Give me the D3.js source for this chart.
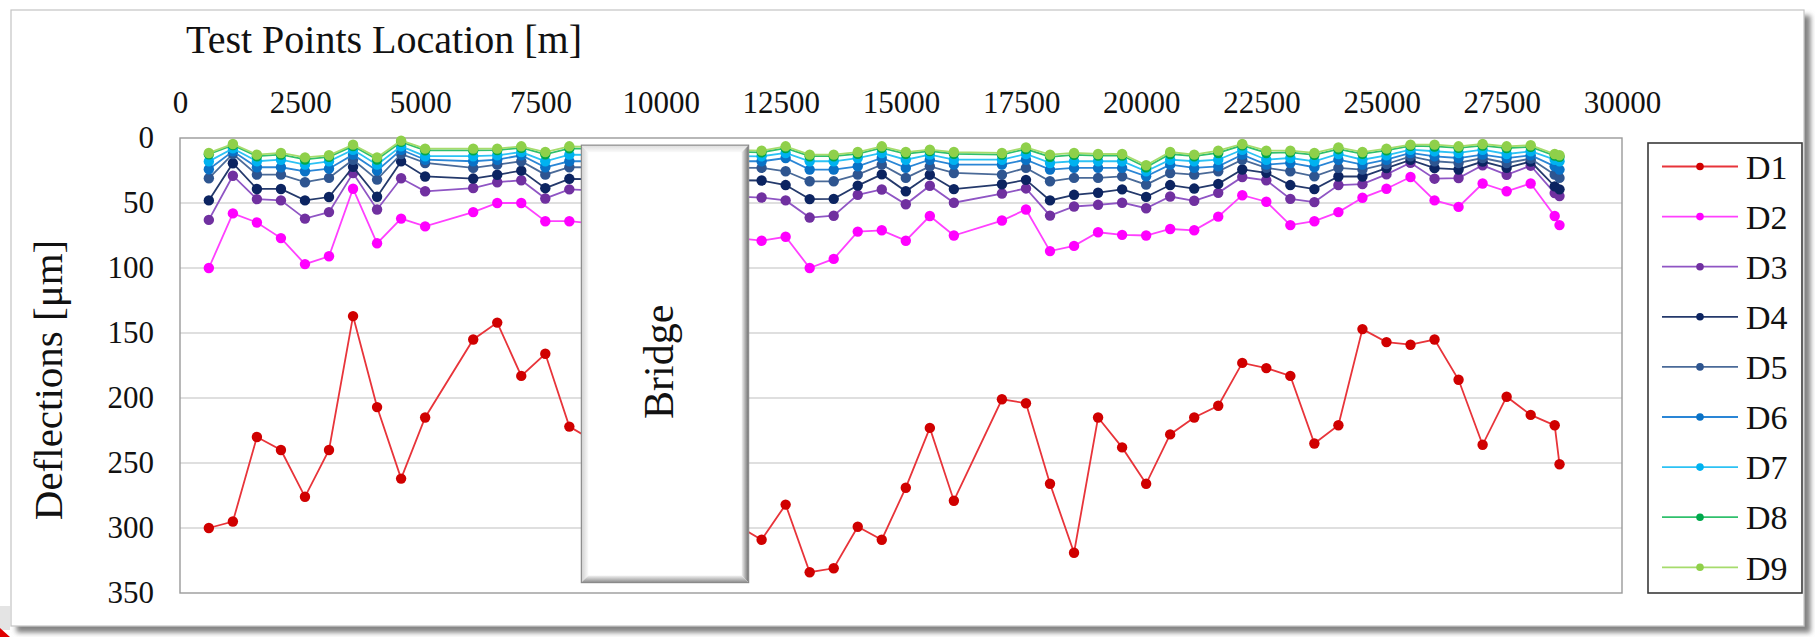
<!DOCTYPE html>
<html>
<head>
<meta charset="utf-8">
<script src="https://cdn.jsdelivr.net/npm/d3@7"></script>
<style>
  html, body { margin: 0; padding: 0; background: #ffffff; }
  svg { display: block; }
  text { font-family: "Liberation Serif", "Times New Roman", serif; fill: #111; }
</style>
</head>
<body>
<svg id="chart" width="1815" height="637"></svg>
<script>
// Test point chainages along the road [m]; no readings on the bridge span
const locations = [600, 1100, 1600, 2100, 2600, 3100, 3600, 4100, 4600, 5100, 6100, 6600, 7100, 7600, 8100,
  12100, 12600, 13100, 13600, 14100, 14600, 15100, 15600, 16100,
  17100, 17600, 18100, 18600, 19100, 19600, 20100, 20600, 21100, 21600, 22100, 22600, 23100, 23600,
  24100, 24600, 25100, 25600, 26100, 26600, 27100, 27600, 28100, 28600, 28700];

// Deflections per geophone [µm]
const D1 = [300, 295, 230, 240, 276, 240, 137, 207, 262, 215, 155, 142, 183, 166, 222,
  309, 282, 334, 331, 299, 309, 269, 223, 279,
  201, 204, 266, 319, 215, 238, 266, 228, 215, 206, 173, 177, 183, 235, 221, 147, 157, 159, 155, 186, 236, 199, 213,
  221, 251];
const D2 = [100, 58, 65, 77, 97, 91, 39, 81, 62, 68, 57, 50, 50, 64, 64,
  79, 76, 100, 93, 72, 71, 79, 60, 75,
  63.5, 55, 87, 83, 72.5, 74.5, 75, 70, 71, 60.5, 44, 49, 67, 64, 57, 46, 39, 30, 48, 53, 35, 41, 35,
  60, 67];
const D3 = [63, 29, 47, 48, 62, 57, 27, 55, 31, 41, 38.5, 34, 32.5, 46.5, 39.5,
  45.8, 48, 61.2, 59.8, 43.7, 39.6, 51, 36.7, 49.8,
  42.7, 38.8, 59.7, 52.7, 51.4, 49.8, 54, 45, 48.3, 42.2, 30, 32.5, 46.8, 49.3, 36.2, 35.5, 28, 19, 31.3, 30.8, 21, 28.3, 21.3,
  42.4, 44.7];
const D4 = [48, 19.4, 39.2, 39.2, 48, 45.4, 22.2, 45.2, 18, 29.6, 31.2, 28.3, 25.1, 38.6, 31.4,
  32.7, 36.2, 47, 46.8, 36.6, 28, 41, 28.3, 39.3,
  35.6, 32.2, 48, 43.7, 42.1, 39.5, 45.3, 36.2, 38.9, 35.3, 24.2, 26.8, 36.2, 39.3, 29.6, 29.6, 23.2, 16.8, 23.2, 24.2, 18.1, 23, 18.1,
  37.2, 39.5];
const D5 = [31, 12.3, 28.2, 28.2, 34, 30.7, 16.7, 32, 12.3, 19.2, 23, 20.5, 17.9, 28.2, 22.5,
  23, 25.6, 33.3, 33.3, 28.2, 20.5, 30.7, 21.8, 26.9,
  28.2, 23, 33.3, 30.7, 30.7, 29.5, 35.9, 26.9, 28.2, 25.6, 16.7, 23, 25.6, 29.5, 23, 24.3, 20, 14.1, 17.9, 19.2, 15.4, 19.2, 15.9,
  28.2, 30.7];
const D6 = [24, 10.2, 22.5, 22.5, 25.6, 23.6, 12.8, 25.1, 9, 16.7, 17.9, 16.7, 13.3, 22.5, 17.9,
  17.9, 15.4, 24.3, 24.3, 21.8, 15.4, 23, 16.7, 20.5,
  20.5, 16.7, 24.3, 23, 23, 23, 29.5, 20.5, 23, 21.8, 12.8, 20.5, 19.2, 22.5, 16.7, 20.5, 16.7, 11.5, 14.1, 15.4, 12.8, 15.4, 13.3,
  21.8, 24.3];
const D7 = [18, 8, 17.9, 16.7, 20.5, 17.9, 9, 20.5, 6.4, 14, 14, 13.3, 10.8, 17.9, 12.8,
  14.1, 11.5, 17.9, 17.9, 15.4, 11.5, 16.7, 12.8, 16.7,
  16.7, 12.3, 19.2, 17.9, 17.9, 17.9, 25.6, 16.7, 17.9, 16.7, 9, 16.7, 15.4, 17.9, 12.3, 16.7, 13.3, 9, 10.2, 11.5, 9, 12.3, 10.2,
  16.7, 17.9];
const D8 = [12.5, 5.5, 14, 12.8, 16.5, 14.5, 6.2, 16.5, 3, 9.5, 9.5, 9.3, 7.5, 12.5, 8,
  11, 7.8, 14, 14, 12.2, 7.6, 12.2, 10, 12.2,
  12.8, 8.5, 14.5, 13, 13.5, 13.5, 22.5, 12.3, 14, 11.5, 5.6, 11.5, 11, 13, 8.6, 12.2, 9.5, 6, 6.5, 7.6, 5.8, 7.8, 6.8,
  13.5, 14.5];
const D9 = [11.5, 4.6, 12.8, 11.5, 14.9, 13.3, 5.1, 14.9, 2, 8.2, 8.2, 8.2, 6.4, 10.8, 6.4,
  9.7, 6.4, 12.8, 12.8, 10.8, 6.4, 10.8, 9, 10.8,
  11.5, 7.2, 12.8, 11.5, 12.3, 12.3, 21, 10.8, 12.8, 9.7, 4.6, 9.7, 9.7, 11.5, 7.2, 10.8, 8.2, 5.1, 5.1, 6.4, 4.6, 6.4, 5.6,
  12.3, 13.3];

const seriesNames = ["D1", "D2", "D3", "D4", "D5", "D6", "D7", "D8", "D9"];
const seriesValues = [D1, D2, D3, D4, D5, D6, D7, D8, D9];
const lineColors = ["#e8343a", "#ff40ff", "#8f55c4", "#24396b", "#4a6a98", "#2a86d6", "#2cc2f4", "#30c06c", "#a6dc6c"];
const markerColors = ["#d00000", "#ff00ff", "#7030a0", "#0c2461", "#2e5590", "#0a72c6", "#00b2f0", "#00a84c", "#8fd04a"];

const xTicks = [0, 2500, 5000, 7500, 10000, 12500, 15000, 17500, 20000, 22500, 25000, 27500, 30000];
const yTicks = [0, 50, 100, 150, 200, 250, 300, 350];

const xTitle = "Test Points Location [m]";
const yTitle = "Deflections [\u03bcm]";
const bridgeLabel = "Bridge";
const bridgeSpan = [8350, 11830];   // chainage range of the bridge
const bridgeDepth = [5.5, 342];    // vertical extent of the bridge box in axis units

const svg = d3.select("#chart");

const defs = svg.append("defs");
const sh = defs.append("filter").attr("id", "frameShadow")
  .attr("x", "-2%").attr("y", "-2%").attr("width", "104%").attr("height", "106%");
sh.append("feDropShadow").attr("dx", 6).attr("dy", 6).attr("stdDeviation", 2.5)
  .attr("flood-color", "#6e6e6e").attr("flood-opacity", 0.85);

// outer chart frame
svg.append("rect").attr("x", 11).attr("y", 10).attr("width", 1793).attr("height", 616)
  .attr("fill", "#ffffff").attr("stroke", "#c4c4c4").attr("stroke-width", 1.2)
  .attr("filter", "url(#frameShadow)");
svg.append("rect").attr("x", 0).attr("y", 606).attr("width", 10).attr("height", 24).attr("fill", "#e4e4e4");
svg.append("path").attr("d", "M0,637 L0,628 L10,637 Z").attr("fill", "#e00000");

const x = d3.scaleLinear().domain([0, 30000]).range([180, 1622]);
const y = d3.scaleLinear().domain([0, 350]).range([138, 593]);

// horizontal gridlines
svg.append("g").selectAll("line").data(yTicks.filter(t => t > 0 && t < 350)).join("line")
  .attr("x1", x(0)).attr("x2", x(30000))
  .attr("y1", d => y(d)).attr("y2", d => y(d))
  .attr("stroke", "#d4d4d4").attr("stroke-width", 1.4);

// plot area border
svg.append("rect").attr("x", x(0)).attr("y", y(0))
  .attr("width", x(30000) - x(0)).attr("height", y(350) - y(0))
  .attr("fill", "none").attr("stroke", "#9a9a9a").attr("stroke-width", 1.4);

// axes
const xAxis = svg.append("g").attr("transform", `translate(0,${y(0)})`)
  .call(d3.axisTop(x).tickValues(xTicks).tickSize(0).tickPadding(25).tickFormat(d3.format("d")));
const yAxis = svg.append("g").attr("transform", `translate(${x(0)},0)`)
  .call(d3.axisLeft(y).tickValues(yTicks).tickSize(0).tickPadding(26).tickFormat(d3.format("d")));
[xAxis, yAxis].forEach(g => {
  g.select(".domain").remove();
  g.selectAll("text").style("font-family", '"Liberation Serif", "Times New Roman", serif')
    .style("font-size", "31px").attr("fill", "#1a1a1a");
});

// series
const line = d3.line().x(d => x(d[0])).y(d => y(d[1]));
seriesValues.forEach((vals, i) => {
  const pts = locations.map((loc, k) => [loc, vals[k]]);
  const g = svg.append("g").attr("class", "series " + seriesNames[i]);
  g.append("path").datum(pts).attr("d", line)
    .attr("fill", "none").attr("stroke", lineColors[i]).attr("stroke-width", 1.8);
  g.selectAll("circle").data(pts).join("circle")
    .attr("cx", d => x(d[0])).attr("cy", d => y(d[1])).attr("r", 5.2)
    .attr("fill", markerColors[i]);
});

// bridge box with bevelled edges
const bx = x(bridgeSpan[0]), bx2 = x(bridgeSpan[1]);
const by = y(bridgeDepth[0]), by2 = y(bridgeDepth[1]);
const bw = bx2 - bx, bh = by2 - by, bv = 7;
const gr = defs.append("linearGradient").attr("id", "bevR").attr("x1", 0).attr("x2", 1).attr("y1", 0).attr("y2", 0);
gr.append("stop").attr("offset", 0).attr("stop-color", "#f2f2f2");
gr.append("stop").attr("offset", 1).attr("stop-color", "#6f6f6f");
const gb = defs.append("linearGradient").attr("id", "bevB").attr("x1", 0).attr("x2", 0).attr("y1", 0).attr("y2", 1);
gb.append("stop").attr("offset", 0).attr("stop-color", "#f2f2f2");
gb.append("stop").attr("offset", 1).attr("stop-color", "#8a8a8a");
const gl = defs.append("linearGradient").attr("id", "bevL").attr("x1", 1).attr("x2", 0).attr("y1", 0).attr("y2", 0);
gl.append("stop").attr("offset", 0).attr("stop-color", "#fafafa");
gl.append("stop").attr("offset", 1).attr("stop-color", "#cfcfcf");
const gt = defs.append("linearGradient").attr("id", "bevT").attr("x1", 0).attr("x2", 0).attr("y1", 1).attr("y2", 0);
gt.append("stop").attr("offset", 0).attr("stop-color", "#fafafa");
gt.append("stop").attr("offset", 1).attr("stop-color", "#dcdcdc");

const bridge = svg.append("g");
bridge.append("rect").attr("x", bx).attr("y", by).attr("width", bw).attr("height", bh).attr("fill", "#ffffff");
bridge.append("polygon").attr("points", [[bx, by], [bx2, by], [bx2 - bv, by + bv], [bx + bv, by + bv]].join(" ")).attr("fill", "url(#bevT)");
bridge.append("polygon").attr("points", [[bx, by], [bx + bv, by + bv], [bx + bv, by2 - bv], [bx, by2]].join(" ")).attr("fill", "url(#bevL)");
bridge.append("polygon").attr("points", [[bx2, by], [bx2, by2], [bx2 - bv, by2 - bv], [bx2 - bv, by + bv]].join(" ")).attr("fill", "url(#bevR)");
bridge.append("polygon").attr("points", [[bx, by2], [bx2, by2], [bx2 - bv, by2 - bv], [bx + bv, by2 - bv]].join(" ")).attr("fill", "url(#bevB)");
bridge.append("rect").attr("x", bx).attr("y", by).attr("width", bw).attr("height", bh)
  .attr("fill", "none").attr("stroke", "#8a8a8a").attr("stroke-width", 1.2);
bridge.append("text").attr("transform", `translate(${bx + bw / 2 + 8},${by + bh / 2 - 2}) rotate(-90)`)
  .attr("text-anchor", "middle").style("font-size", "42px").text(bridgeLabel);

// titles
svg.append("text").attr("x", 186).attr("y", 53).style("font-size", "40px").text(xTitle);
svg.append("text").attr("transform", "translate(62,380) rotate(-90)")
  .attr("text-anchor", "middle").style("font-size", "41px").text(yTitle);

// legend
const lg = svg.append("g");
lg.append("rect").attr("x", 1648).attr("y", 143).attr("width", 154).attr("height", 450)
  .attr("fill", "#ffffff").attr("stroke", "#3a3a3a").attr("stroke-width", 1.6);
seriesNames.forEach((name, i) => {
  const cy = 166.5 + i * 50.1;
  lg.append("line").attr("x1", 1662).attr("x2", 1738).attr("y1", cy).attr("y2", cy)
    .attr("stroke", lineColors[i]).attr("stroke-width", 1.8);
  lg.append("circle").attr("cx", 1700).attr("cy", cy).attr("r", 3.8).attr("fill", markerColors[i]);
  lg.append("text").attr("x", 1746).attr("y", cy).attr("dy", "0.36em").style("font-size", "34px").text(name);
});
</script>
</body>
</html>
